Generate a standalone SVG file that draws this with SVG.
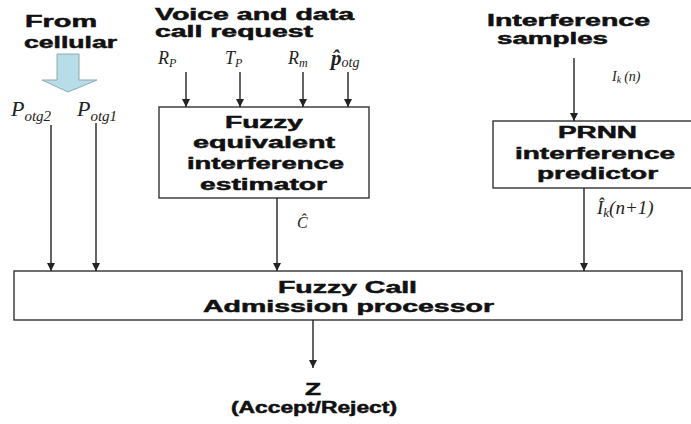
<svg xmlns="http://www.w3.org/2000/svg" width="691" height="424" viewBox="0 0 691 424">
<style>
.bt{font-family:"Liberation Sans",Arial,sans-serif;font-weight:bold;font-size:16px;fill:#111;stroke:#111;stroke-width:0.5}
.m{font-family:"Liberation Serif","Times New Roman",serif;font-style:italic;fill:#222}
.box{fill:#fff;stroke:#333;stroke-width:1.4}
.ln{stroke:#222;stroke-width:1.4;fill:none;marker-end:url(#ah)}
</style>
<defs>
<marker id="ah" markerUnits="userSpaceOnUse" markerWidth="9" markerHeight="8" refX="8" refY="4" orient="auto">
<path d="M0,0 L8,4 L0,8 z" fill="#222"/>
</marker>
</defs>
<rect width="691" height="424" fill="#fff"/>

<g id="from-cellular">
<text class="bt" x="25" y="27" textLength="72" lengthAdjust="spacingAndGlyphs">From</text>
<text class="bt" x="24" y="48" textLength="93" lengthAdjust="spacingAndGlyphs">cellular</text>
<polygon points="57,54 79,54 79,80 97,80 68,92 42,80 57,80" fill="#B7DDE8" stroke="#8FA8B0" stroke-width="1"/>
<text class="m" x="11" y="116" font-size="22">P<tspan font-size="15" dy="5">otg2</tspan></text>
<text class="m" x="77" y="116" font-size="22">P<tspan font-size="15" dy="5">otg1</tspan></text>
</g>

<g id="voice-request">
<text class="bt" x="155" y="20" textLength="199" lengthAdjust="spacingAndGlyphs">Voice and data</text>
<text class="bt" x="155" y="37" textLength="158" lengthAdjust="spacingAndGlyphs">call request</text>
<text class="m" x="158" y="64" font-size="18">R<tspan font-size="12" dy="3">P</tspan></text>
<text class="m" x="225" y="64" font-size="18">T<tspan font-size="12" dy="3">P</tspan></text>
<text class="m" x="288" y="64" font-size="18">R<tspan font-size="12" dy="3">m</tspan></text>
<text class="m" x="331" y="65" font-size="21" font-weight="bold">p̂<tspan dy="2" font-size="14" font-weight="normal">otg</tspan></text>
</g>

<g id="interference-samples">
<text class="bt" x="487" y="26" textLength="163" lengthAdjust="spacingAndGlyphs">Interference</text>
<text class="bt" x="497" y="44" textLength="111" lengthAdjust="spacingAndGlyphs">samples</text>
<text class="m" x="612" y="81" font-size="14">I<tspan font-size="10" dy="2">k</tspan><tspan dx="3" dy="-2">(n)</tspan></text>
</g>

<g id="estimator">
<rect class="box" x="159" y="107" width="210" height="91"/>
<text class="bt" x="225" y="128" textLength="78" lengthAdjust="spacingAndGlyphs">Fuzzy</text>
<text class="bt" x="193" y="148" textLength="142" lengthAdjust="spacingAndGlyphs">equivalent</text>
<text class="bt" x="187" y="169" textLength="157" lengthAdjust="spacingAndGlyphs">interference</text>
<text class="bt" x="200" y="190" textLength="127" lengthAdjust="spacingAndGlyphs">estimator</text>
<text class="m" x="297" y="228" font-size="16">Ĉ</text>
</g>

<g id="predictor">
<rect class="box" x="493" y="121" width="210" height="67"/>
<text class="bt" x="558" y="138" textLength="79" lengthAdjust="spacingAndGlyphs">PRNN</text>
<text class="bt" x="515" y="159" textLength="160" lengthAdjust="spacingAndGlyphs">interference</text>
<text class="bt" x="537" y="179" textLength="121" lengthAdjust="spacingAndGlyphs">predictor</text>
<text class="m" x="597" y="214" font-size="19">Î<tspan font-size="13" dy="3">k</tspan><tspan dy="-3">(n+1)</tspan></text>
</g>

<g id="processor">
<rect class="box" x="14" y="271" width="668" height="49"/>
<text class="bt" x="278" y="293" textLength="139" lengthAdjust="spacingAndGlyphs">Fuzzy Call</text>
<text class="bt" x="203" y="312" textLength="291" lengthAdjust="spacingAndGlyphs">Admission processor</text>
</g>

<g id="output">
<text class="bt" x="305" y="395" textLength="16" lengthAdjust="spacingAndGlyphs">Z</text>
<text class="bt" x="231" y="413" textLength="166" lengthAdjust="spacingAndGlyphs">(Accept/Reject)</text>
</g>

<g id="connectors">
<line class="ln" x1="51" y1="125" x2="51" y2="271"/>
<line class="ln" x1="96" y1="123" x2="96" y2="271"/>
<line class="ln" x1="186" y1="72" x2="186" y2="107"/>
<line class="ln" x1="240" y1="72" x2="240" y2="107"/>
<line class="ln" x1="303" y1="72" x2="303" y2="107"/>
<line class="ln" x1="348" y1="72" x2="348" y2="107"/>
<line class="ln" x1="277" y1="198" x2="277" y2="271"/>
<line class="ln" x1="574" y1="58" x2="574" y2="121"/>
<line class="ln" x1="584" y1="188" x2="584" y2="271"/>
<line class="ln" x1="313" y1="320" x2="313" y2="368"/>
</g>
</svg>
